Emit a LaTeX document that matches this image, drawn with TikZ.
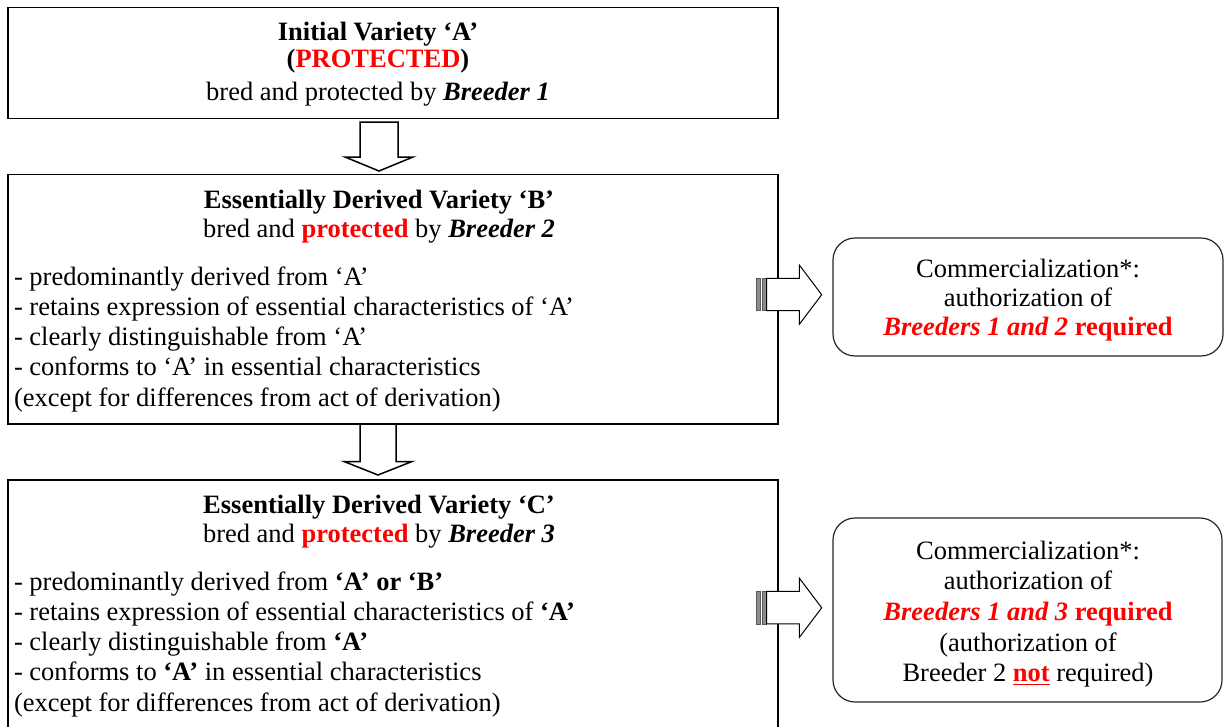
\documentclass[tikz,border=0pt]{standalone}
\usepackage{fontspec}
\setmainfont{Liberation Serif}
\newcommand\myul[1]{\setbox0\hbox{#1}\rlap{\raisebox{-3.6pt}{\rule{\wd0}{1.7pt}}}\box0}
\begin{document}
\begin{tikzpicture}[x=1pt,y=-1pt,
  every node/.style={inner sep=0pt, outer sep=0pt},
  main/.style={font=\fontsize{26.5}{30.25}\selectfont},
  box/.style={draw=black, line width=1.5pt},
  rbox/.style={draw=black!85, line width=1.2pt, rounded corners=22pt},
  ctr/.style={main, anchor=base},
  lst/.style={main, anchor=base west},
  downarrow/.style={draw=black, line width=1.5pt, fill=white, line join=miter},
  rightarrow/.style={draw=black, line width=1pt, fill=white, line join=miter},
  stripe/.style={draw=black!65, line width=0.6pt, fill=black!45}
]
\useasboundingbox (0,0) rectangle (1225,726);
\clip (0,0) rectangle (1225,726);

% boxes
\node[box, minimum width=770, minimum height=111] (b1) at (393,62.75) {};
\node[box, minimum width=770, minimum height=249.5] (b2) at (393,299.25) {};
\node[box, minimum width=770, minimum height=280] (b3) at (393,620) {};
\node[rbox, minimum width=390, minimum height=118] (r1) at (1028,297) {};
\node[rbox, minimum width=389, minimum height=184] (r2) at (1027.5,610) {};

% box 1 text
\node[ctr] (t1a) at (378,40.6) {\textbf{Initial Variety ‘A’}};
\node[ctr] (t1b) at (378,67.3) {\textbf{(\textcolor{red}{PROTECTED})}};
\node[ctr] (t1c) at (378,100) {bred and protected by \textbf{\textit{Breeder 1}}};

% box 2 text
\node[ctr] (t2a) at (379,208) {\textbf{Essentially Derived Variety ‘B’}};
\node[ctr] (t2b) at (379,237.5) {bred and \textcolor{red}{\textbf{protected}} by \textbf{\textit{Breeder 2}}};
\node[lst] (l2a) at (14,285) {- predominantly derived from ‘A’};
\node[lst] (l2b) at (14,315.25) {- retains expression of essential characteristics of ‘A’};
\node[lst] (l2c) at (14,345.5) {- clearly distinguishable from ‘A’};
\node[lst] (l2d) at (14,375.75) {- conforms to ‘A’ in essential characteristics};
\node[lst] (l2e) at (14,406) {(except for differences from act of derivation)};

% box 3 text
\node[ctr] (t3a) at (379,513) {\textbf{Essentially Derived Variety ‘C’}};
\node[ctr] (t3b) at (379,542.5) {bred and \textcolor{red}{\textbf{protected}} by \textbf{\textit{Breeder 3}}};
\node[lst] (l3a) at (14,590) {- predominantly derived from \textbf{‘A’ or ‘B’}};
\node[lst] (l3b) at (14,620.25) {- retains expression of essential characteristics of \textbf{‘A’}};
\node[lst] (l3c) at (14,650.5) {- clearly distinguishable from \textbf{‘A’}};
\node[lst] (l3d) at (14,680.75) {- conforms to \textbf{‘A’} in essential characteristics};
\node[lst] (l3e) at (14,711) {(except for differences from act of derivation)};

% right box 1 text
\node[ctr] (r1a) at (1028,277.7) {Commercialization*:};
\node[ctr] (r1b) at (1028,306.5) {authorization of};
\node[ctr] (r1c) at (1028,335.3) {\textcolor{red}{\textbf{\textit{Breeders 1 and 2}} \textbf{required}}};

% right box 2 text
\node[ctr] (r2a) at (1028,559.3) {Commercialization*:};
\node[ctr] (r2b) at (1028,589.9) {authorization of};
\node[ctr] (r2c) at (1028,620.5) {\textcolor{red}{\textbf{\textit{Breeders 1 and 3}} \textbf{required}}};
\node[ctr] (r2d) at (1028,651.1) {(authorization of};
\node[ctr] (r2e) at (1028,681.7) {Breeder 2 \textcolor{red}{\myul{\textbf{not}}} required)};

% down arrows
\draw[downarrow] (360,122) -- (398,122) -- (398,157) -- (413,157) -- (379,171)
  -- (345,157) -- (360,157) -- cycle;
\draw[downarrow] (360,424) -- (396,424) -- (396,461.5) -- (412,461.5) -- (378,475)
  -- (344,461.5) -- (360,461.5) -- cycle;

% right striped arrows
\foreach \dy/\n in {0/a, 313.1/b}{
  \draw[stripe] (756,278.3+\dy) rectangle (760.5,310.7+\dy);
  \draw[stripe] (762.7,278.3+\dy) rectangle (766.7,310.7+\dy);
  \draw[rightarrow] (766.7,278.3+\dy) -- (799.3,278.3+\dy) -- (799.3,265+\dy)
    -- (821.7,294.7+\dy) -- (799.3,324.3+\dy) -- (799.3,310.7+\dy)
    -- (766.7,310.7+\dy) -- cycle;
}
\end{tikzpicture}
\end{document}
